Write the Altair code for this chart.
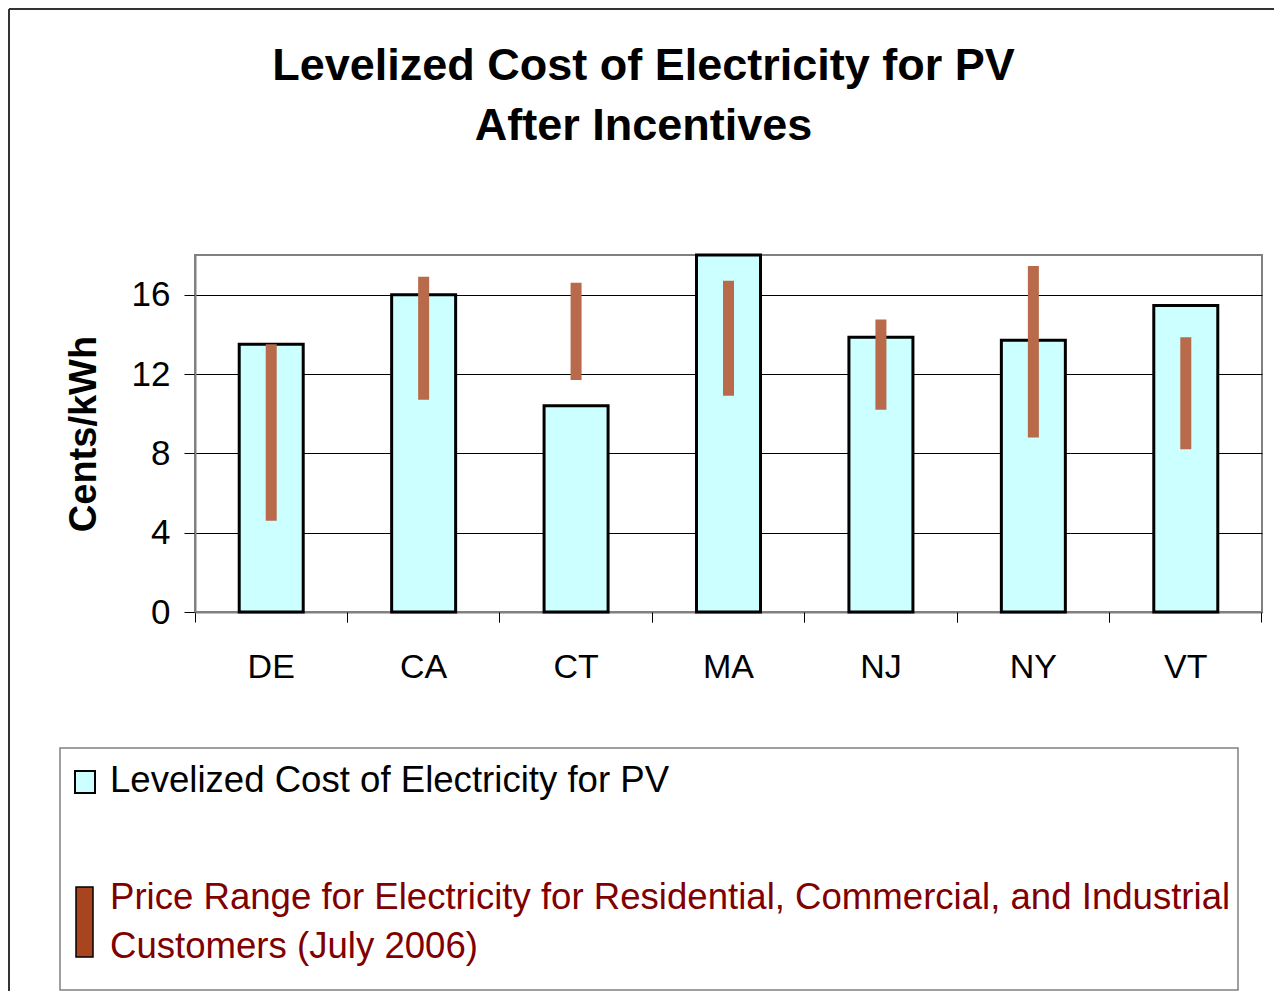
import altair as alt
import pandas as pd

FONT = "Liberation Sans"

# ---- data ----
states = ["DE", "CA", "CT", "MA", "NJ", "NY", "VT"]
lcoe = [13.5, 16.0, 10.4, 18.0, 13.85, 13.7, 15.45]
price_low = [4.6, 10.7, 11.7, 10.9, 10.2, 8.8, 8.2]
price_high = [13.5, 16.9, 16.6, 16.7, 14.75, 17.45, 13.85]
y_ticks = [0, 4, 8, 12, 16]

title_lines = ["Levelized Cost of Electricity for PV", "After Incentives"]
y_title = "Cents/kWh"
legend_label_1 = "Levelized Cost of Electricity for PV"
legend_label_2 = ["Price Range for Electricity for Residential, Commercial, and Industrial",
                  "Customers (July 2006)"]

df = pd.DataFrame({"state": states, "lcoe": lcoe, "low": price_low, "high": price_high})
one = pd.DataFrame({"k": [0]})

W, H = 1067, 357

x_scale = alt.Scale(domain=states, paddingInner=0, paddingOuter=0)
y_scale = alt.Scale(domain=[0, 18], nice=False)

y_axis = alt.Axis(values=y_ticks, title=y_title, grid=True, gridColor="black", gridWidth=1,
                  domainColor="#808080", domainWidth=2, tickColor="black", tickSize=11,
                  labelFontSize=35, labelFont=FONT, labelColor="black", labelPadding=14,
                  titleFontSize=38, titleFont=FONT, titleFontWeight="bold", titleColor="black",
                  titlePadding=28)

bars = alt.Chart(df).mark_bar(width=64, fill="#CCFFFF", stroke="black", strokeWidth=3).encode(
    x=alt.X("state:N", scale=x_scale, sort=states,
            axis=alt.Axis(title=None, orient="bottom", bandPosition=0, labelAngle=0,
                          labelFontSize=34, labelFont=FONT, labelColor="black", labelPadding=28,
                          tickSize=10, tickColor="black", domainColor="#808080", domainWidth=2,
                          grid=False)),
    y=alt.Y("lcoe:Q", scale=y_scale, axis=y_axis),
)

ranges = alt.Chart(df).mark_bar(width=11, color="#B86A4A").encode(
    x=alt.X("state:N", scale=x_scale, sort=states,
            axis=alt.Axis(title=None, orient="bottom", bandPosition=1, labels=False,
                          domain=False, tickSize=10, tickColor="black", grid=False)),
    y=alt.Y("low:Q", scale=y_scale, axis=y_axis),
    y2="high:Q",
)

# legend box (below the plot) and outer frame
legend_box = alt.Chart(one).mark_rect(fill="white", stroke="#808080", strokeWidth=1.5).encode(
    x=alt.value(-135), x2=alt.value(1043), y=alt.value(493), y2=alt.value(735))
frame_top = alt.Chart(one).mark_rule(color="#333333", strokeWidth=2).encode(
    x=alt.value(-186), x2=alt.value(1079), y=alt.value(-246))
frame_left = alt.Chart(one).mark_rule(color="#333333", strokeWidth=2).encode(
    x=alt.value(-186), y=alt.value(-246), y2=alt.value(740))

sym1 = alt.Chart(one).mark_rect(fill="#CCFFFF", stroke="black", strokeWidth=2).encode(
    x=alt.value(-120), x2=alt.value(-100), y=alt.value(516), y2=alt.value(538))
sym2 = alt.Chart(one).mark_rect(fill="#A8451E", stroke="black", strokeWidth=1.5).encode(
    x=alt.value(-119), x2=alt.value(-102), y=alt.value(632), y2=alt.value(702))

txt_style = dict(font=FONT, fontSize=36.6, align="left", baseline="middle")
lab1 = alt.Chart(one).mark_text(color="black", **txt_style).encode(
    x=alt.value(-85), y=alt.value(526), text=alt.value(legend_label_1))
lab2 = alt.Chart(one).mark_text(color="#800000", **txt_style).encode(
    x=alt.value(-85), y=alt.value(643), text=alt.value(legend_label_2[0]))
lab3 = alt.Chart(one).mark_text(color="#800000", **txt_style).encode(
    x=alt.value(-85), y=alt.value(692), text=alt.value(legend_label_2[1]))

chart = alt.layer(
    frame_top, frame_left, legend_box, bars, ranges, sym1, sym2, lab1, lab2, lab3
).resolve_axis(x="independent").properties(
    width=W, height=H,
    autosize=alt.AutoSizeParams(type="none"),
    padding={"left": 187, "top": 247, "right": 12, "bottom": 379},
    title=alt.TitleParams(text=title_lines, fontSize=45, font=FONT, fontWeight="bold",
                          color="black", anchor="middle", frame="group", dx=-85,
                          lineHeight=60, offset=-141),
).configure_view(stroke="#808080", strokeWidth=2)

chart.save("out.html", embed_options={"renderer": "svg", "actions": False})
